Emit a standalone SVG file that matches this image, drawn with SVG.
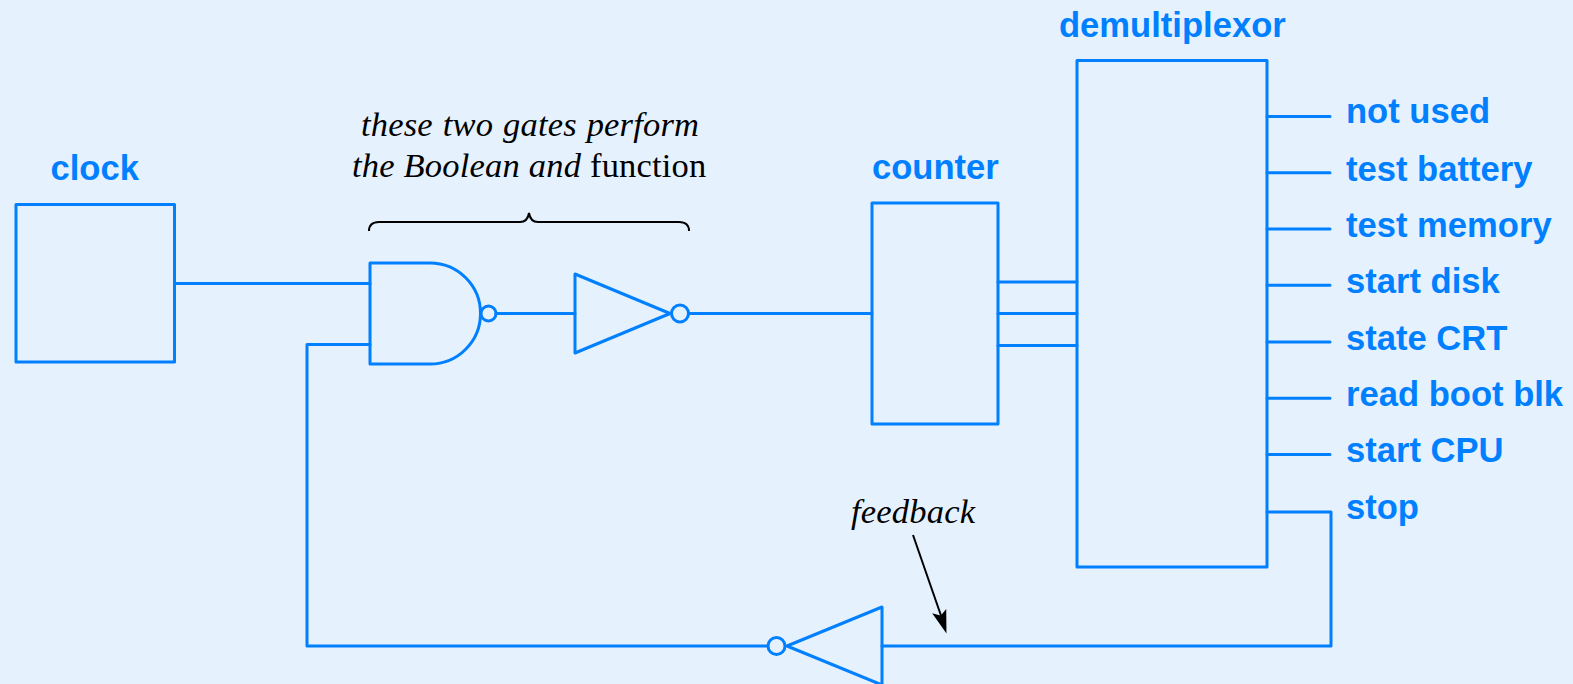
<svg xmlns="http://www.w3.org/2000/svg" width="1573" height="684" viewBox="0 0 1573 684">
<style>
.b{fill:none;stroke:#0080ff;stroke-width:3;stroke-linejoin:round;stroke-linecap:round}
.l{font-family:"Liberation Sans",Arial,sans-serif;font-weight:bold;font-size:34.600px;fill:#0080ff}
.n{font-family:"Liberation Serif","Times New Roman",serif;font-size:34.500px;fill:#000;letter-spacing:.2px}
.i{font-style:italic}
</style>
<rect width="1573" height="684" fill="#e6f1fe"/>
<g id="connectors">
<path class="b" d="M175 283.500H370M307 344.500H370M307 344.500V646H767M496 313.500H575M689 313.500H872M998 282H1077M998 313.500H1077M998 345.500H1077M882 646H1331V512H1267"/>
<path class="b" d="M1267 116.500H1330M1267 172.800H1330M1267 229H1330M1267 285.200H1330M1267 342H1330M1267 398.200H1330M1267 454.500H1330"/>
<path d="M913 535L941.500 617" fill="none" stroke="#000" stroke-width="2"/>
<path d="M945.700 631L934 614.500L941 616.500L945.500 611Z" fill="#000" stroke="#000" stroke-width="1.500"/>
</g>
<g id="clock"><rect class="b" x="16" y="204.500" width="158.500" height="157.500"/><text class="l" x="50.500" y="180">clock</text></g>
<g id="and-gate"><path class="b" d="M370 263H430A50.500 50.500 0 0 1 430 364H370Z"/><circle class="b" cx="488.500" cy="313.500" r="7.500"/></g>
<g id="inverter-1"><path class="b" d="M575 274L670 313.500L575 353Z"/><circle class="b" cx="680" cy="313.500" r="8.500"/></g>
<g id="counter"><rect class="b" x="872" y="203" width="126" height="221"/><text class="l" x="872" y="179">counter</text></g>
<g id="demultiplexor"><rect class="b" x="1077" y="60.500" width="190" height="506.500"/><text class="l" x="1059" y="37">demultiplexor</text></g>
<g id="inverter-2"><path class="b" d="M882 607L787 646L882 685Z"/><circle class="b" cx="776.500" cy="646" r="8.500"/></g>
<g id="annotation">
<text class="n i" x="361" y="136" word-spacing="1px">these two gates perform</text>
<text class="n" x="352" y="177"><tspan class="i">the Boolean and</tspan> function</text>
<path d="M369 231C369 225 372 222 379 222H520C525 222 528 219 529 213C530 219 533 222 538 222H679C686 222 689 225 689 231" fill="none" stroke="#000" stroke-width="2"/>
<text class="n i" x="851" y="523">feedback</text>
</g>
<g id="outputs">
<text class="l" x="1346" y="123">not used</text>
<text class="l" x="1346" y="181">test battery</text>
<text class="l" x="1346" y="237">test memory</text>
<text class="l" x="1346" y="293">start disk</text>
<text class="l" x="1346" y="350">state CRT</text>
<text class="l" x="1346" y="406">read boot blk</text>
<text class="l" x="1346" y="462">start CPU</text>
<text class="l" x="1346" y="519">stop</text>
</g>
</svg>
